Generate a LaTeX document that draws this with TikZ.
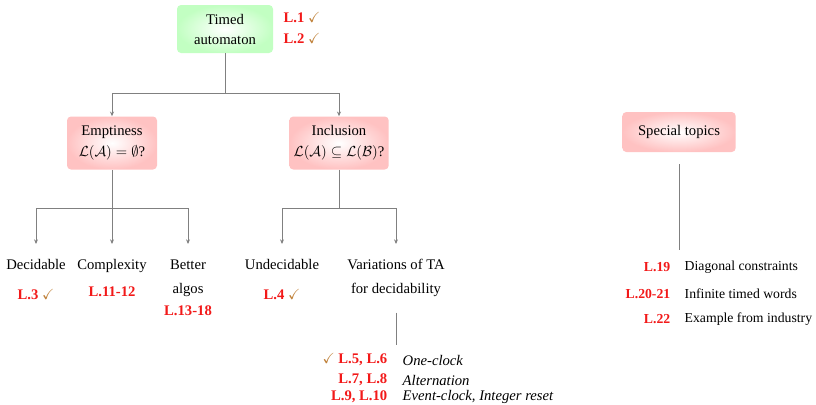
\documentclass[tikz,border=0pt]{standalone}
\usepackage{amsmath}
\usepackage{amssymb}
\usepackage{fontspec}
\setmainfont{Liberation Serif}
\usetikzlibrary{shapes,arrows.meta}
\definecolor{lecred}{rgb}{0.95,0.1,0.1}
\definecolor{donebrown}{rgb}{0.75,0.5,0.22}
\newcommand{\lec}[1]{\textcolor{lecred}{\textbf{#1}}}
\newcommand{\done}{\textcolor{donebrown}{$\checkmark$}}
\tikzset{
  topic/.style={rounded corners=3pt, shading=radial, inner color=white, outer color=red!24, align=center, minimum width=67.5pt, minimum height=39.75pt},
  roottopic/.style={topic, outer color=green!24, minimum width=72pt, minimum height=36pt},
  leaf/.style={align=center, anchor=north, inner xsep=0pt, inner ysep=11.5pt, font=\fontsize{11}{18}\selectfont},
  extra/.style={font=\fontsize{10.3}{16}\selectfont},
  branch/.style={draw=gray, line width=0.6pt},
  link/.style={branch, -{Stealth[length=3.5pt,width=3pt]}},
}
\begin{document}
\begin{tikzpicture}[x=0.75pt, y=-0.75pt, font=\fontsize{11}{16}\selectfont]
\useasboundingbox (0,0) rectangle (816,404);
\node[roottopic] (ta) at (225,29) {Timed\\[-1pt]automaton};
\node[anchor=west] (lec1) at (279,18) {\lec{L.1} \done};
\node[anchor=west] (lec2) at (279,39) {\lec{L.2} \done};
\node[topic] (empty) at (112,143) {Emptiness\\$\mathcal{L}(\mathcal{A})=\emptyset$?};
\node[topic] (incl) at (339,143) {Inclusion\\$\mathcal{L}(\mathcal{A})\subseteq\mathcal{L}(\mathcal{B})$?};
\node[topic, minimum width=85pt, minimum height=30pt] (spec) at (679,132) {Special topics};
\coordinate (j1) at (225,93);
\draw[branch] (ta) -- (j1);
\draw[link] (j1) -| (empty);
\draw[link] (j1) -| (incl);
\node[leaf] (dec) at (36,244) {Decidable};
\node[leaf] (cplx) at (112,244) {Complexity};
\node[leaf] (algo) at (188,244) {Better\\algos};
\node (lec3) at (36,295) {\lec{L.3} \done};
\node (lec11) at (112,292) {\lec{L.11-12}};
\node (lec13) at (188,311) {\lec{L.13-18}};
\coordinate (j2) at (112,208);
\draw[branch] (empty) -- (j2);
\draw[link] (j2) -| (dec);
\draw[link] (j2) -- (cplx);
\draw[link] (j2) -| (algo);
\node[leaf] (undec) at (282,244) {Undecidable};
\node[leaf] (var) at (396,244) {Variations of TA\\for decidability};
\node (lec4) at (282,295) {\lec{L.4} \done};
\coordinate (j3) at (339,208);
\draw[branch] (incl) -- (j3);
\draw[link] (j3) -| (undec);
\draw[link] (j3) -| (var);
\coordinate (varend) at (396,345);
\draw[branch] (var) -- (varend);
\node[anchor=east] (lec5) at (392,360) {\done\ \lec{L.5, L.6}};
\node[anchor=east] (lec7) at (392,380) {\lec{L.7, L.8}};
\node[anchor=east] (lec9) at (392,397) {\lec{L.9, L.10}};
\node[anchor=west] (oneclk) at (398,360) {\textit{One-clock}};
\node[anchor=west] (alt) at (398,380) {\textit{Alternation}};
\node[anchor=west] (evclk) at (398,397) {\textit{Event-clock, Integer reset}};
\coordinate (specend) at (679,250);
\draw[branch, shorten <=9pt] (spec) -- (specend);
\node[anchor=east, extra] (lec19) at (675,267) {\lec{L.19}};
\node[anchor=east, extra] (lec20) at (675,294) {\lec{L.20-21}};
\node[anchor=east, extra] (lec22) at (675,319) {\lec{L.22}};
\node[anchor=west, extra] (diag) at (680,267) {Diagonal constraints};
\node[anchor=west, extra] (infw) at (680,294) {Infinite timed words};
\node[anchor=west, extra] (indus) at (680,319) {Example from industry};
\end{tikzpicture}
\end{document}
